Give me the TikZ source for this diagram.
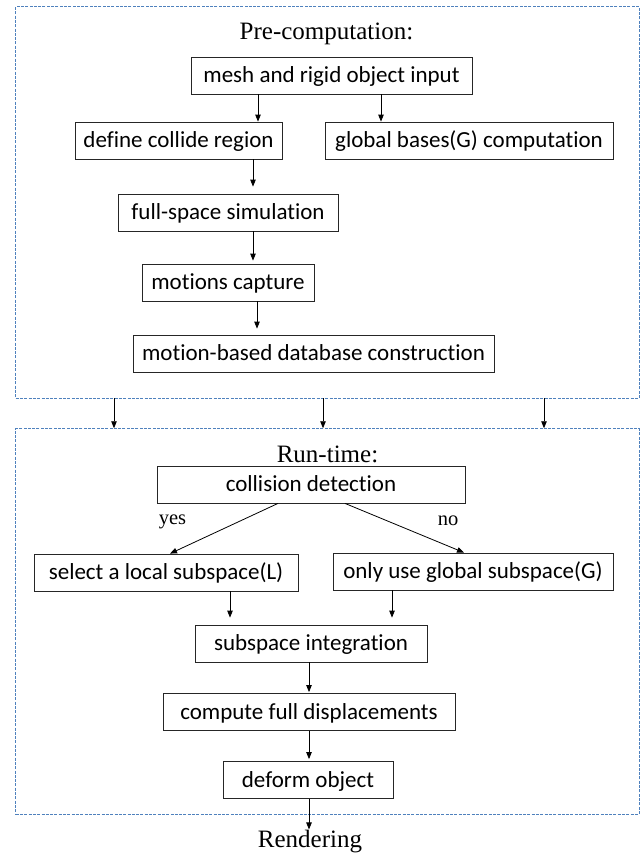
\documentclass[tikz,border=0pt]{standalone}
\usepackage{fontspec}
\setmainfont{Liberation Serif}
\newfontfamily\boxfont[Ligatures=NoCommon]{Carlito}
\usetikzlibrary{arrows.meta}
\definecolor{framecol}{RGB}{79,129,189}

\begin{document}
\begin{tikzpicture}[x=1pt,y=-1pt,
  stage/.style={draw=framecol, line width=0.9pt, dash pattern=on 3pt off 1.3pt, inner sep=0pt},
  stepbox/.style={draw=black!85, line width=0.8pt, inner sep=0pt, minimum height=37pt,
    font=\boxfont\fontsize{23}{27}\selectfont, text height=16pt, text depth=1.6pt},
  arr/.style={draw=black, line width=0.8pt, -{Triangle[length=7pt,width=5.5pt]}},
  title/.style={font=\fontsize{25}{30}\selectfont, anchor=base, inner sep=0pt},
  branch/.style={font=\fontsize{20.5}{24}\selectfont, anchor=base, inner sep=0pt}
]
\useasboundingbox (0,0) rectangle (642,854);

% the two stages
\node[stage, minimum width=623.3pt, minimum height=391.3pt] (pre) at (327.35,202.35) {};
\node[stage, minimum width=623.3pt, minimum height=385.3pt] (run) at (327.35,621.35) {};

% pre-computation stage
\node[title] (pretitle) at (326.5,39) {Pre-computation:};
\node[stepbox, minimum width=281pt] (mesh)    at (331.5,75.5)  {mesh and rigid object input};
\node[stepbox, minimum width=207pt] (define)  at (178.5,140.5) {define collide region};
\node[stepbox, minimum width=288pt] (global)  at (469,140.5)   {global bases(G) computation};
\node[stepbox, minimum width=220pt] (full)    at (228,212.5)   {full-space simulation};
\node[stepbox, minimum width=172pt] (motions) at (228,282.5)   {motions capture};
\node[stepbox, minimum width=361pt] (db)      at (313.5,353.5) {motion-based database construction};

\draw[arr] (mesh.south -| 258,0) -- (define.north -| 258,0);
\draw[arr] (mesh.south -| 381,0) -- (global.north -| 381,0);
\draw[arr, shorten >=7pt] (define.south -| 253,0) -- (full.north -| 253,0);
\draw[arr, shorten >=3pt] (full.south -| 253,0) -- (motions.north -| 253,0);
\draw[arr, shorten >=6pt] (motions.south -| 257,0) -- (db.north -| 257,0);

% hand-over between the stages
\draw[arr] (pre.south -| 114,0) -- (run.north -| 114,0);
\draw[arr] (pre.south -| 323,0) -- (run.north -| 323,0);
\draw[arr] (pre.south -| 544,0) -- (run.north -| 544,0);

% run-time stage
\node[title] (runtitle) at (327.5,462) {Run-time:};
\node[stepbox, minimum width=308pt] (coll)     at (311,484.5) {collision detection};
\node[stepbox, minimum width=264pt] (select)   at (166,572.5) {select a local subspace(L)};
\node[stepbox, minimum width=280pt] (only)     at (473,571.5) {only use global subspace(G)};
\node[stepbox, minimum width=232pt] (subspace) at (311,643.5) {subspace integration};
\node[stepbox, minimum width=292pt] (compute)  at (309,712)   {compute full displacements};
\node[stepbox, minimum width=170pt] (deform)   at (308,780)   {deform object};
\node[title] (render) at (310,847) {Rendering};

\node[branch] (yes) at (172.5,524) {yes};
\node[branch] (no)  at (448,525)   {no};

\draw[arr] (coll.south -| 278,0) -- (select.north -| 170,0);
\draw[arr] (coll.south -| 345,0) -- (only.north -| 464,0);
\draw[arr, shorten >=7pt] (select.south -| 230,0) -- (subspace.north -| 230,0);
\draw[arr, shorten >=7pt] (only.south -| 392,0) -- (subspace.north -| 392,0);
\draw[arr, shorten >=1pt] (subspace.south -| 309,0) -- (compute.north -| 309,0);
\draw[arr, shorten >=2pt] (compute.south -| 309,0) -- (deform.north -| 309,0);
\draw[arr] (deform.south -| 309,0) -- (render.north -| 309,0);
\end{tikzpicture}
\end{document}
